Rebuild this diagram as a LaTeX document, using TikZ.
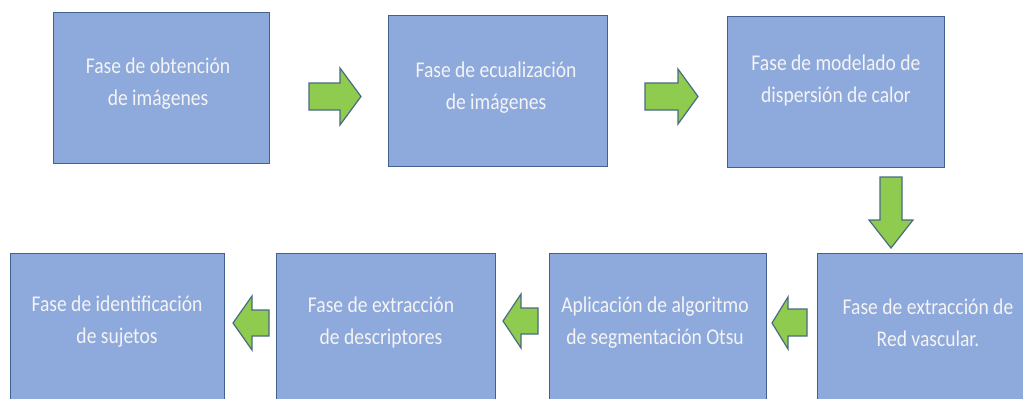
\documentclass[tikz,border=0pt]{standalone}
\usepackage{fontspec}
\setmainfont{Carlito}[FakeStretch=0.87]
\definecolor{boxfill}{HTML}{8EA9DB}
\definecolor{boxline}{HTML}{41618F}
\definecolor{arrfill}{HTML}{8FCB4E}
\definecolor{arrline}{HTML}{4A6A84}
\definecolor{txtcol}{HTML}{F4F4F4}
\begin{document}
\begin{tikzpicture}[x=1pt,y=-1pt,
  phase/.style={draw=boxline, fill=boxfill, line width=1.2pt, anchor=north west, inner sep=0pt},
  blockarrow/.style={draw=arrline, fill=arrfill, line width=1.2pt, line join=miter},
  txt/.style={text=txtcol, font=\fontsize{22.5}{32}\selectfont, align=center, inner sep=0pt}]
\useasboundingbox (0,0) rectangle (1023,399);
\clip (0,0) rectangle (1023,399);
% top row
\node[phase, minimum width=216pt, minimum height=151pt] (b1) at (53,12) {};
\node[phase, minimum width=219pt, minimum height=151pt] (b2) at (388,15) {};
\node[phase, minimum width=217pt, minimum height=151pt] (b3) at (727,16) {};
% bottom row
\node[phase, minimum width=222pt, minimum height=160pt] (b4) at (817,253) {};
\node[phase, minimum width=217pt, minimum height=160pt] (b5) at (549,253) {};
\node[phase, minimum width=219pt, minimum height=160pt] (b6) at (276,253) {};
\node[phase, minimum width=214pt, minimum height=160pt] (b7) at (10,253) {};
% texts
\node[txt] (t1) at (158,84) {Fase de obtención\\de imágenes};
\node[txt] (t2) at (496,88) {Fase de ecualización\\de imágenes};
\node[txt] (t3) at (836,80) {Fase de modelado de\\dispersión de calor};
\node[txt] (t4) at (928,323) {Fase de extracción de\\Red vascular.};
\node[txt] (t5) at (655,323) {Aplicación de algoritmo\\de segmentación Otsu};
\node[txt] (t6) at (381,322) {Fase de extracción\\de descriptores};
\node[txt] (t7) at (117,322) {Fase de identificación\\de sujetos};
% block arrows
\draw[blockarrow] (309,83)--(340,83)--(340,68)--(361,96.5)--(340,125)--(340,110)--(309,110)--cycle;
\draw[blockarrow] (645,83)--(678,83)--(678,69)--(698,96.5)--(678,124)--(678,110)--(645,110)--cycle;
\draw[blockarrow] (880,177)--(902,177)--(902,220)--(913,220)--(891,248)--(869,220)--(880,220)--cycle;
\draw[blockarrow] (807,309)--(788,309)--(788,297)--(772,323)--(788,349)--(788,336)--(807,336)--cycle;
\draw[blockarrow] (538,308)--(521,308)--(521,294)--(503,321)--(521,348)--(521,334)--(538,334)--cycle;
\draw[blockarrow] (269,310)--(252,310)--(252,296)--(233,323)--(252,350)--(252,336)--(269,336)--cycle;
\end{tikzpicture}
\end{document}
